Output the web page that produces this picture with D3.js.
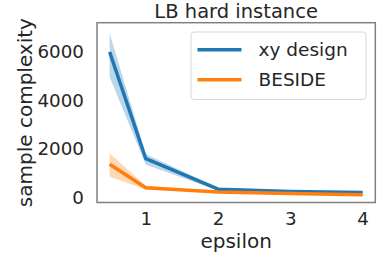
<!DOCTYPE html>
<meta charset="utf-8">
<html>
<head>
<script src="https://d3js.org/d3.v7.min.js"></script>
<style>
  body { margin: 0; background: white; }
  svg text { font-family: "DejaVu Sans", sans-serif; fill: #262626; }
</style>
</head>
<body>
<svg id="chart"></svg>
<script>
// data
var epsilon = [0.5, 1, 2, 3, 4];
var xyMean = [6000, 1600, 345, 250, 205];
var xyLow  = [4970, 1350, 290, 215, 175];
var xyHigh = [6770, 1780, 400, 285, 235];
var besideMean = [1370, 400, 225, 165, 115];
var besideLow  = [860, 330, 190, 140, 95];
var besideHigh = [1820, 470, 260, 190, 135];
var xTicks = [1, 2, 3, 4];
var yTicks = [0, 2000, 4000, 6000];
var seriesNames = ["xy design", "BESIDE"];
var seriesColors = ["#1f77b4", "#ff7f0e"];

var W = 382, H = 259;
var plot = {left: 97, right: 375.3, top: 22.7, bottom: 202.5};

var svg = d3.select("#chart").attr("width", W).attr("height", H);

var x = d3.scaleLinear().domain([0.325, 4.175]).range([plot.left, plot.right]);
var y = d3.scaleLinear().domain([-206, 7208]).range([plot.bottom, plot.top]);

// axes (no tick marks, seaborn white style)
var gx = svg.append("g")
    .attr("transform", "translate(0," + plot.bottom + ")")
    .call(d3.axisBottom(x).tickValues(xTicks).tickSize(0).tickPadding(9.5).tickFormat(d3.format("d")));
gx.select(".domain").remove();
gx.selectAll("text").style("font-size", "18.3px").style("font-family", "DejaVu Sans").attr("fill", "#262626");

var gy = svg.append("g")
    .attr("transform", "translate(" + plot.left + ",0)")
    .call(d3.axisLeft(y).tickValues(yTicks).tickSize(0).tickPadding(13).tickFormat(d3.format("d")));
gy.select(".domain").remove();
gy.selectAll("text").style("font-size", "18.3px").style("font-family", "DejaVu Sans").attr("fill", "#262626");

// bands + lines
var series = [
  {mean: xyMean, low: xyLow, high: xyHigh},
  {mean: besideMean, low: besideLow, high: besideHigh}
];

var area = d3.area()
    .x(function(d) { return x(d.e); })
    .y0(function(d) { return y(d.lo); })
    .y1(function(d) { return y(d.hi); });
var line = d3.line()
    .x(function(d) { return x(d.e); })
    .y(function(d) { return y(d.m); });

series.forEach(function(s, i) {
  var pts = epsilon.map(function(e, j) {
    return {e: e, m: s.mean[j], lo: s.low[j], hi: s.high[j]};
  });
  svg.append("path")
      .datum(pts)
      .attr("d", area)
      .attr("fill", seriesColors[i])
      .attr("fill-opacity", 0.3);
  svg.append("path")
      .datum(pts)
      .attr("d", line)
      .attr("fill", "none")
      .attr("stroke", seriesColors[i])
      .attr("stroke-width", 3.5)
      .attr("stroke-linejoin", "round");
});

// frame
svg.append("rect")
    .attr("x", plot.left)
    .attr("y", plot.top)
    .attr("width", plot.right - plot.left)
    .attr("height", plot.bottom - plot.top)
    .attr("fill", "none")
    .attr("stroke", "#808080")
    .attr("stroke-width", 1.5);

// title and labels
svg.append("text")
    .attr("x", (plot.left + plot.right) / 2)
    .attr("y", 18)
    .attr("text-anchor", "middle")
    .style("font-size", "19.5px")
    .text("LB hard instance");

svg.append("text")
    .attr("x", (plot.left + plot.right) / 2)
    .attr("y", 248)
    .attr("text-anchor", "middle")
    .style("font-size", "20px")
    .text("epsilon");

svg.append("text")
    .attr("transform", "translate(32," + ((plot.top + plot.bottom) / 2) + ")rotate(-90)")
    .attr("text-anchor", "middle")
    .style("font-size", "20px")
    .text("sample complexity");

// legend
var legend = svg.append("g");
legend.append("rect")
    .attr("x", 191)
    .attr("y", 32)
    .attr("width", 175)
    .attr("height", 67.5)
    .attr("rx", 3)
    .attr("fill", "white")
    .attr("fill-opacity", 0.8)
    .attr("stroke", "#d6d6d6")
    .attr("stroke-width", 1);

seriesNames.forEach(function(name, i) {
  var ly = 49.7 + i * 30;
  legend.append("line")
      .attr("x1", 197.5).attr("x2", 241.5)
      .attr("y1", ly).attr("y2", ly)
      .attr("stroke", seriesColors[i])
      .attr("stroke-width", 3.5);
  legend.append("text")
      .attr("x", 258.5)
      .attr("y", ly + 6.5)
      .style("font-size", "18.5px")
      .text(name);
});
</script>
</body>
</html>
